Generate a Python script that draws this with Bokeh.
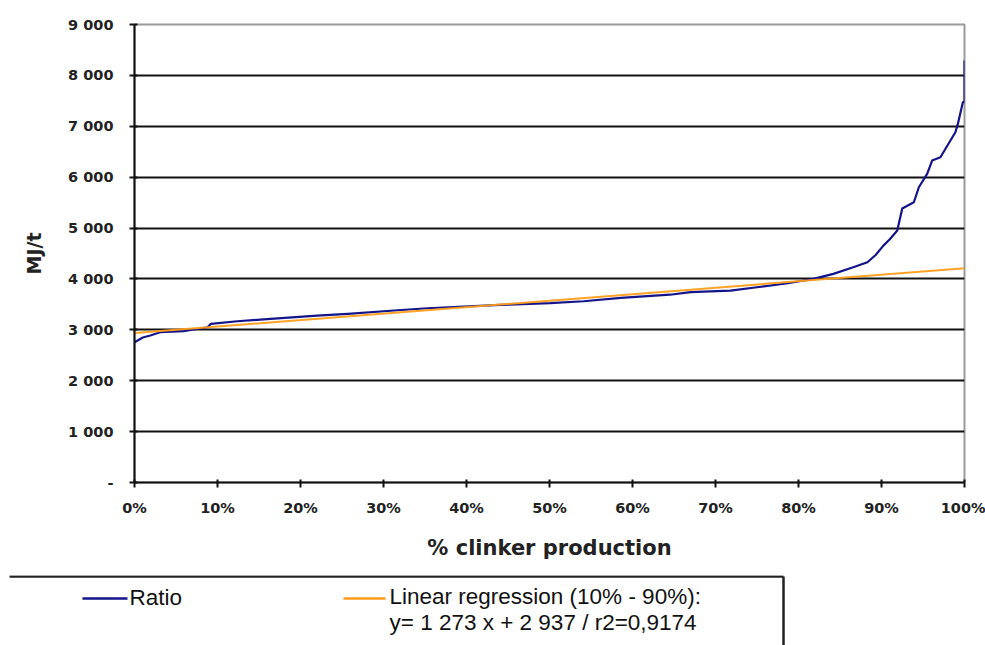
from bokeh.plotting import figure
from bokeh.layouts import column
from bokeh.models import FixedTicker, Range1d
from bokeh.core.properties import value
from bokeh.embed import file_html
from bokeh.resources import INLINE

# Cumulative share of clinker production (%) and specific energy ratio (MJ/t)
production_pct = [0, 1.0, 1.9, 3.1, 5.9, 8.8, 9.2, 12.4, 16.4, 22.0, 25.7, 31.7,
                  35.3, 44.1, 50.1, 54.1, 58.6, 64.5, 67.0, 71.8, 75.0, 78.7,
                  81.8, 84.2, 86.6, 88.3, 89.3, 90.2, 91.0, 91.9, 92.5, 93.9, 94.5, 95.5,
                  96.1, 97.1, 98.9, 99.2, 99.8, 100.0, 100.0]
ratio_mj_t = [2756, 2850, 2888, 2953, 2973, 3051, 3117, 3169, 3216, 3281, 3314, 3385,
              3424, 3491, 3523, 3562, 3629, 3690, 3740, 3772, 3837, 3916,
              4002, 4100, 4230, 4328, 4470, 4650, 4780, 4951, 5383, 5507, 5802, 6065,
              6326, 6391, 6882, 7047, 7471, 7480, 8291]

# Linear regression fitted on the 10%-90% range: y = slope * x + intercept
reg_slope = 1273
reg_intercept = 2937
reg_r2 = 0.9174
reg_x = [0.0, 1.0]

y_ticks = [0, 1000, 2000, 3000, 4000, 5000, 6000, 7000, 8000, 9000]
y_tick_labels = ["-", "1 000", "2 000", "3 000", "4 000", "5 000", "6 000", "7 000", "8 000", "9 000"]
x_ticks = [i / 10 for i in range(11)]
x_tick_labels = [f"{i * 10}%" for i in range(11)]

FONT = "DejaVu Sans"
LEGEND_FONT = "Liberation Sans"
BLUE = "#14148a"
ORANGE = "#ff9d1a"

p = figure(width=985, height=575, output_backend="svg", toolbar_location=None,
           x_range=Range1d(0, 1), y_range=Range1d(0, 9000),
           min_border_left=134, min_border_right=21, min_border_top=24, min_border_bottom=93)
p.frame_align = False
p.outline_line_color = "#9a9a9a"
p.outline_line_width = 2
p.background_fill_color = "white"
p.border_fill_color = "white"

p.xgrid.grid_line_color = None
p.ygrid.grid_line_color = "#111111"
p.ygrid.grid_line_width = 2
p.ygrid.ticker = FixedTicker(ticks=y_ticks[1:-1])

for ax in (p.xaxis[0], p.yaxis[0]):
    ax.axis_line_color = "#111111"
    ax.axis_line_width = 2
    ax.major_tick_line_color = "#111111"
    ax.major_tick_line_width = 2
    ax.major_tick_in = 3
    ax.major_tick_out = 5
    ax.minor_tick_line_color = None
    ax.major_label_text_font = FONT
    ax.major_label_text_font_style = "bold"
    ax.major_label_text_font_size = "14.5px"
    ax.major_label_text_color = "#222222"
    ax.axis_label_text_font = FONT
    ax.axis_label_text_font_style = "bold"
    ax.axis_label_text_color = "#222222"

p.yaxis[0].ticker = FixedTicker(ticks=y_ticks)
p.yaxis[0].major_label_overrides = {t: s for t, s in zip(y_ticks, y_tick_labels)}
p.yaxis[0].major_label_standoff = 16
p.yaxis[0].axis_label = "MJ/t"
p.yaxis[0].axis_label_text_font_size = "19px"
p.yaxis[0].axis_label_standoff = 20

p.xaxis[0].ticker = FixedTicker(ticks=x_ticks)
p.xaxis[0].major_label_overrides = {t: s for t, s in zip(x_ticks, x_tick_labels)}
p.xaxis[0].major_label_standoff = 12
p.xaxis[0].axis_label = "% clinker production"
p.xaxis[0].axis_label_text_font_size = "21px"
p.xaxis[0].axis_label_standoff = 17

ratio_x = [v / 100 for v in production_pct]
p.line(ratio_x, ratio_mj_t, line_color=BLUE, line_width=2.2, line_join="round")
reg_y = [reg_slope * x + reg_intercept for x in reg_x]
p.line(reg_x, reg_y, line_color=ORANGE, line_width=2, alpha=0.95)

# Legend strip below the chart
leg = figure(width=985, height=70, output_backend="svg", toolbar_location=None,
             x_range=Range1d(0, 985), y_range=Range1d(70, 0),
             min_border=0, outline_line_color=None)
leg.frame_align = False
leg.axis.visible = False
leg.grid.visible = False
leg.segment(x0=[9, 783], y0=[1, 1], x1=[783, 783], y1=[1, 70], line_color="#222222", line_width=2.5)
leg.segment(x0=[82, 343], y0=[23, 23], x1=[127, 385], y1=[23, 23],
            line_color=[BLUE, ORANGE], line_width=2.5)
reg_label = (f"y= {reg_slope // 1000} {reg_slope % 1000:03d} x + "
             f"{reg_intercept // 1000} {reg_intercept % 1000:03d} / r2={str(reg_r2).replace('.', ',')}")
leg.text(x=[129, 389, 389], y=[22, 21, 47],
         text=["Ratio", "Linear regression (10% - 90%):", reg_label],
         text_font=value(LEGEND_FONT), text_font_size="22.5px", text_color="#111111",
         text_baseline="middle", text_align="left")

layout = column(p, leg, spacing=0)
open("out.html", "w").write(file_html(layout, INLINE))
